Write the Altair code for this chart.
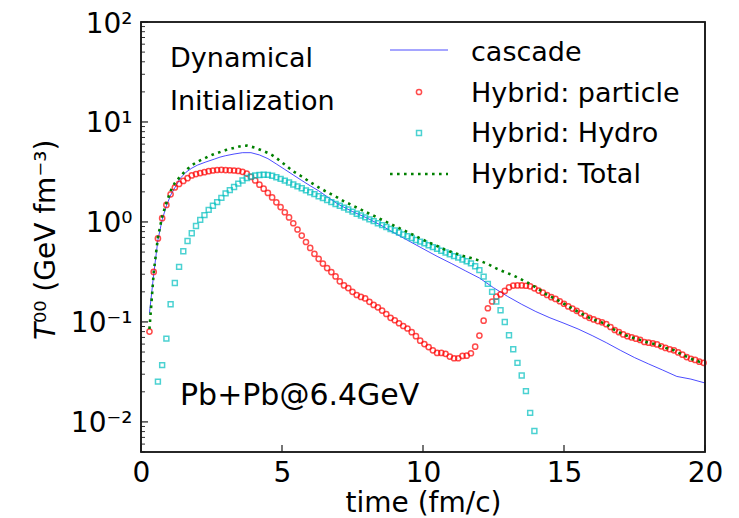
import altair as alt
import pandas as pd

# ---------------- data ----------------
particle_t0 = 0.3
step = 0.15
particle = [
    0.08, 0.316, 0.685, 1.09, 1.48, 1.89, 2.21, 2.40, 2.57, 2.74,
    2.92, 3.01, 3.08, 3.15, 3.22, 3.27, 3.31, 3.32, 3.30, 3.29,
    3.27, 3.24, 3.17, 3.05, 2.82, 2.60, 2.36, 2.15, 1.95, 1.76,
    1.57, 1.41, 1.25, 1.11, 0.97, 0.84, 0.73, 0.63, 0.55, 0.48,
    0.428, 0.383, 0.346, 0.315, 0.285, 0.255, 0.232, 0.218, 0.200, 0.186,
    0.178, 0.172, 0.159, 0.148, 0.140, 0.130, 0.120, 0.110, 0.104, 0.097,
    0.091, 0.086, 0.079, 0.072, 0.065, 0.060, 0.056, 0.052, 0.049, 0.049,
    0.048, 0.045, 0.0433, 0.0433, 0.0457, 0.046, 0.0486, 0.0566, 0.073, 0.103,
    0.137, 0.160, 0.179, 0.189, 0.204, 0.222, 0.231, 0.232, 0.232, 0.230,
    0.227, 0.217, 0.206, 0.196, 0.186, 0.177, 0.170, 0.161, 0.152, 0.143,
    0.136, 0.129, 0.122, 0.115, 0.110, 0.106, 0.102, 0.099, 0.095, 0.089,
    0.083, 0.079, 0.075, 0.072, 0.070, 0.068, 0.066, 0.063, 0.062, 0.061,
    0.0595, 0.057, 0.055, 0.0533, 0.052, 0.0495, 0.047, 0.0445, 0.0428, 0.0417,
    0.040, 0.039,
]

hydro_t0 = 0.6
hydro = [
    0.0253, 0.037, 0.068, 0.15, 0.245, 0.355, 0.51, 0.645, 0.77, 0.91,
    1.05, 1.17, 1.32, 1.45, 1.58, 1.74, 1.93, 2.08, 2.24, 2.42,
    2.60, 2.75, 2.85, 2.92, 2.95, 2.97, 2.96, 2.90, 2.80, 2.70,
    2.59, 2.48, 2.37, 2.27, 2.17, 2.07, 1.98, 1.90, 1.81, 1.73,
    1.66, 1.58, 1.51, 1.45, 1.39, 1.33, 1.27, 1.21, 1.16, 1.11,
    1.06, 1.02, 0.97, 0.93, 0.89, 0.85, 0.82, 0.785, 0.75, 0.72,
    0.69, 0.66, 0.635, 0.61, 0.585, 0.56, 0.54, 0.515, 0.495, 0.475,
    0.455, 0.44, 0.42, 0.405, 0.385, 0.36, 0.33, 0.284, 0.24, 0.20,
    0.16, 0.131, 0.10, 0.0736, 0.0533, 0.0389, 0.0291, 0.0203, 0.0123, 0.0081,
]

cascade_t = [0.30, 0.45, 0.60, 0.75, 0.90, 1.05, 1.20, 1.40, 1.60, 1.80, 2.00,
             2.30, 2.60, 2.80, 3.00, 3.30, 3.60, 3.90, 4.20, 4.50, 4.80,
             5.10, 5.40, 5.70, 6.00, 6.30, 6.60, 7.00, 7.50, 8.00, 8.50,
             9.00, 9.50, 10.00, 10.50, 11.00, 11.50, 12.00, 12.50, 13.00,
             13.50, 14.00, 14.50, 15.00, 15.50, 16.00, 16.50, 17.00, 17.50,
             18.00, 18.50, 19.00, 19.50, 20.00]
cascade_v = [0.122, 0.30, 0.66, 1.05, 1.45, 1.85, 2.2, 2.75, 3.15, 3.45, 3.7,
             3.98, 4.25, 4.45, 4.6, 4.78, 4.93, 4.93, 4.68, 4.3, 3.8,
             3.35, 2.95, 2.6, 2.3, 2.05, 1.79, 1.5, 1.27, 1.1, 0.93,
             0.77, 0.645, 0.54, 0.453, 0.385, 0.325, 0.275, 0.22, 0.18,
             0.15, 0.127, 0.11, 0.097, 0.085, 0.073, 0.062, 0.052, 0.044,
             0.038, 0.033, 0.0285, 0.0268, 0.0245]

total_t = [0.30, 0.45, 0.60, 0.75, 0.90, 1.05, 1.20, 1.35, 1.50, 1.65,
           1.80, 1.95, 2.10, 2.25, 2.40, 2.55, 2.70, 2.85, 3.00, 3.15,
           3.30, 3.45, 3.60, 3.75, 3.90, 4.05, 4.20, 4.35, 4.50, 4.65,
           4.80, 5.10, 5.40, 5.70, 6.00, 6.30, 6.60, 6.90, 7.20, 7.50,
           7.80, 8.10, 8.40, 8.70, 9.00, 9.30, 9.60, 9.90, 10.20, 10.50,
           10.80, 11.10, 11.40, 11.70, 12.00, 12.30, 12.60, 12.90, 13.20, 13.50,
           13.80, 14.10, 14.40, 14.70, 15.00, 15.30, 15.60, 15.90, 16.20, 16.50,
           16.80, 17.10, 17.40, 17.70, 18.00, 18.30, 18.60, 18.90, 19.20, 19.50,
           19.80, 19.95]
total_v = [0.085, 0.31, 0.70, 1.13, 1.55, 2.04, 2.45, 2.76, 3.08, 3.39,
           3.69, 3.92, 4.13, 4.32, 4.54, 4.72, 4.89, 5.06, 5.23, 5.37,
           5.51, 5.66, 5.77, 5.80, 5.67, 5.52, 5.31, 5.11, 4.91, 4.66,
           4.36, 3.75, 3.2, 2.85, 2.5, 2.22, 1.99, 1.8, 1.61, 1.46,
           1.33, 1.21, 1.1, 1.0, 0.91, 0.83, 0.755, 0.685, 0.625, 0.575,
           0.525, 0.49, 0.46, 0.435, 0.41, 0.38, 0.343, 0.315, 0.292, 0.265,
           0.24, 0.213, 0.186, 0.170, 0.152, 0.136, 0.122, 0.110, 0.102, 0.095,
           0.083, 0.075, 0.070, 0.066, 0.062, 0.0595, 0.055, 0.052, 0.047, 0.0428,
           0.040, 0.039]

x_ticks = [0, 5, 10, 15, 20]
y_ticks = [0.01, 0.1, 1, 10, 100]
y_minor = [m * 10.0 ** e for e in range(-3, 2) for m in range(2, 10)
           if 0.005 <= m * 10.0 ** e <= 100]

legend_labels = ["cascade", "Hybrid: particle", "Hybrid: Hydro", "Hybrid: Total"]
note_lines = ["Dynamical", "Initialization"]
system_label = "Pb+Pb@6.4GeV"
x_title = "time (fm/c)"
y_title_sym = "T"
y_title_rest = "⁰⁰ (GeV fm⁻³)"

# ---------------- tables ----------------
df_particle = pd.DataFrame({
    "t": [round(particle_t0 + step * i, 2) for i in range(len(particle))],
    "v": particle})
df_hydro = pd.DataFrame({
    "t": [round(hydro_t0 + step * i, 2) for i in range(len(hydro))],
    "v": hydro})
df_cascade = pd.DataFrame({"t": cascade_t, "v": cascade_v})
df_total = pd.DataFrame({"t": total_t, "v": total_v})
df_yt = pd.DataFrame({"v": y_ticks})
df_ym = pd.DataFrame({"v": y_minor})
df_xt = pd.DataFrame({"t": x_ticks})
one = pd.DataFrame({"a": [0]})

# ---------------- layout ----------------
W, H = 564, 430
FONT = "DejaVu Sans"
FRAME = "#1a1a1a"
xs = alt.Scale(domain=[0, 20], nice=False, zero=False)
ys = alt.Scale(type="log", domain=[0.005, 100], nice=False)

label_expr = ("datum.value >= 99 ? '10²' : datum.value >= 9.9 ? '10¹' : "
              "datum.value >= 0.99 ? '10⁰' : datum.value >= 0.099 ? '10⁻¹' : '10⁻²'")

x_axis = alt.Axis(values=x_ticks, tickSize=0, domain=False, grid=False,
                  labelFontSize=28, labelFont=FONT, labelPadding=7,
                  labelFlush=False, labelColor="black", labelOverlap=False,
                  title=x_title, titleFont=FONT, titleFontSize=28,
                  titleFontWeight="normal", titleColor="black",
                  titleBaseline="middle", titleY=51)
y_axis = alt.Axis(values=y_ticks, labelExpr=label_expr, tickSize=0,
                  domain=False, grid=False, labelFontSize=28, labelFont=FONT,
                  labelPadding=9, labelColor="black", labelOverlap=False,
                  labelFlush=False, labelOffset=2, title="")

cascade = alt.Chart(df_cascade).mark_line(
    color="#0000ff", strokeWidth=1.0, opacity=0.7
).encode(
    x=alt.X("t:Q", scale=xs, axis=x_axis),
    y=alt.Y("v:Q", scale=ys, axis=y_axis),
    order="t:Q",
)

CIRC = dict(shape="circle", filled=False, color="#ff0000", size=27, strokeWidth=1.5)
SQ = dict(shape="square", filled=False, color="#00bfbf", size=24, strokeWidth=1.5)

part = alt.Chart(df_particle).mark_point(**CIRC).encode(
    x=alt.X("t:Q", scale=xs), y=alt.Y("v:Q", scale=ys))

hyd = alt.Chart(df_hydro).mark_point(**SQ).encode(
    x=alt.X("t:Q", scale=xs), y=alt.Y("v:Q", scale=ys))

tot = alt.Chart(df_total).mark_line(
    color="#008000", strokeWidth=2.6, strokeDash=[2.6, 4.4], strokeCap="butt"
).encode(x=alt.X("t:Q", scale=xs), y=alt.Y("v:Q", scale=ys), order="t:Q")

# inward ticks
yt = alt.Chart(df_yt).mark_rule(color=FRAME, strokeWidth=1.2).encode(
    y=alt.Y("v:Q", scale=ys), x=alt.value(0), x2=alt.value(7))
ym = alt.Chart(df_ym).mark_rule(color=FRAME, strokeWidth=0.9).encode(
    y=alt.Y("v:Q", scale=ys), x=alt.value(0), x2=alt.value(4))
xt = alt.Chart(df_xt).mark_rule(color=FRAME, strokeWidth=1.2).encode(
    x=alt.X("t:Q", scale=xs), y=alt.value(H), y2=alt.value(H - 7))

frame = alt.Chart(one).mark_rect(
    fill="transparent", stroke=FRAME, strokeWidth=1.6
).encode(x=alt.value(0), x2=alt.value(W), y=alt.value(0), y2=alt.value(H))

def txt(s, x, y, size=27, **kw):
    return alt.Chart(one).mark_text(
        text=s, align=kw.pop("align", "left"), baseline=kw.pop("baseline", "alphabetic"),
        font=FONT, fontSize=size, color="black", **kw
    ).encode(x=alt.value(x), y=alt.value(y))

notes = [txt(note_lines[0], 29, 45), txt(note_lines[1], 29, 88),
         txt(system_label, 39, 383, 30)]

# y-axis title: italic T followed by the rest, rotated
ytitle = [
    txt(y_title_sym, -94, 318, 28, angle=270, baseline="middle", fontStyle="italic"),
    txt(y_title_rest, -94, 301, 28, angle=270, baseline="middle"),
]

leg_y = [38.5, 79.5, 120, 161]
leg_text = [txt(lbl, 330, yy) for lbl, yy in zip(legend_labels, leg_y)]
leg_line = alt.Chart(one).mark_rule(color="#0000ff", strokeWidth=1.0, opacity=0.7).encode(
    x=alt.value(249), x2=alt.value(307), y=alt.value(28))
leg_circ = alt.Chart(one).mark_point(**CIRC).encode(x=alt.value(278), y=alt.value(70))
leg_sq = alt.Chart(one).mark_point(**SQ).encode(x=alt.value(278), y=alt.value(111))
leg_dot = alt.Chart(one).mark_rule(
    color="#008000", strokeWidth=2.6, strokeDash=[2.6, 4.4], strokeCap="butt"
).encode(x=alt.value(249), x2=alt.value(307), y=alt.value(152))

chart = alt.layer(
    cascade, part, hyd, tot, yt, ym, xt, frame,
    *notes, *ytitle, *leg_text, leg_line, leg_circ, leg_sq, leg_dot
).properties(
    width=W, height=H,
    autosize=alt.AutoSizeParams(type="none"),
    padding={"left": 141, "top": 22, "right": 34, "bottom": 66},
    background="white",
).configure(
    font=FONT,
    view=alt.ViewConfig(stroke=FRAME, strokeWidth=1.6),
)

chart.save("out.html", embed_options={"renderer": "svg", "actions": False})
